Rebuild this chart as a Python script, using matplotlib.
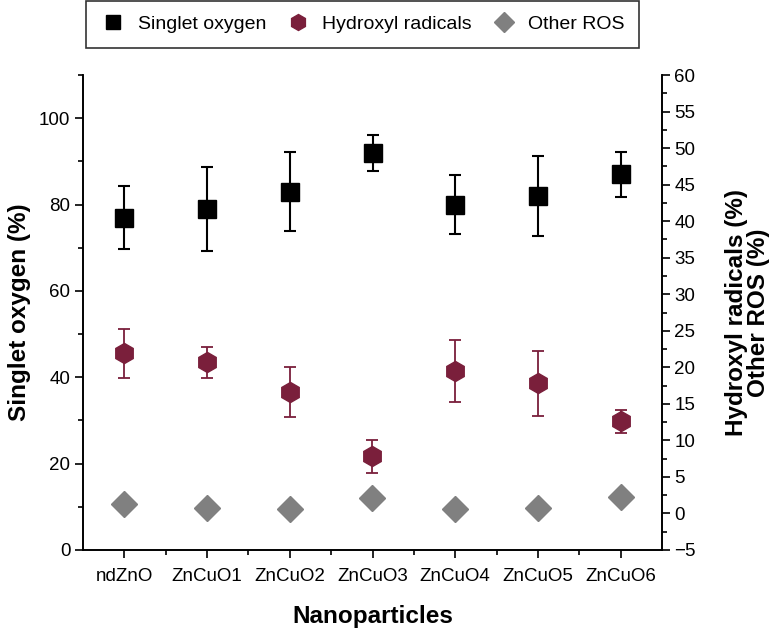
import numpy as np
import matplotlib
matplotlib.use("Agg")
import matplotlib.pyplot as plt
from matplotlib.ticker import MultipleLocator, FixedLocator
from matplotlib.lines import Line2D

plt.rcParams['font.family'] = ['Liberation Sans', 'DejaVu Sans']

# data
samples = ["ndZnO", "ZnCuO1", "ZnCuO2", "ZnCuO3", "ZnCuO4", "ZnCuO5", "ZnCuO6"]
singlet = [77.0, 79.0, 83.0, 92.0, 80.0, 82.0, 87.0]
singlet_err = [7.4, 9.7, 9.1, 4.2, 6.8, 9.3, 5.2]
hydroxyl = [21.9, 20.7, 16.6, 7.8, 19.5, 17.8, 12.6]
hydroxyl_err = [3.4, 2.1, 3.4, 2.3, 4.2, 4.4, 1.6]
other_ros = [1.3, 0.8, 0.6, 2.1, 0.6, 0.8, 2.2]

maroon = "#7a1f3b"
grey = "#808080"

x = np.arange(len(samples))

fig = plt.figure(figsize=(7.79, 6.30), dpi=100)
ax = fig.add_axes([83/779, 1-550/630, (662-83)/779, (550-75)/630])
ax2 = ax.twinx()

#Singlet oxygen on the left axis
ax.errorbar(x, singlet, yerr=singlet_err, fmt='s', color='black', ms=13,
            ecolor='black', elinewidth=1.5, capsize=4, capthick=1.5, zorder=3)
#Hydroxyl radicals and other ROS on the right axis
ax2.errorbar(x, hydroxyl, yerr=hydroxyl_err, fmt='h', color=maroon, ms=14.5,
             ecolor=maroon, elinewidth=1.3, capsize=4, capthick=1.3, zorder=3)
ax2.plot(x, other_ros, 'D', color=grey, ms=13.5, ls='none', zorder=3)

ax.set_xlim(-0.5, 6.5)
ax.set_ylim(0, 110)
ax2.set_ylim(-5, 60)

ax.set_xticks(x)
ax.set_xticklabels(samples)
ax.xaxis.set_minor_locator(FixedLocator(x[:-1] + 0.5))
ax.yaxis.set_major_locator(MultipleLocator(20))
ax.yaxis.set_minor_locator(MultipleLocator(10))
ax2.yaxis.set_major_locator(MultipleLocator(5))
ax2.yaxis.set_minor_locator(MultipleLocator(2.5))

for a in (ax, ax2):
    a.spines['top'].set_visible(False)
    for s in a.spines.values():
        s.set_linewidth(1.2)
    a.tick_params(which='major', direction='out', length=6, width=1.2, labelsize=13.5, pad=3)
    a.tick_params(which='minor', direction='out', length=3.5, width=1.2)
ax.tick_params(axis='x', which='major', pad=7)

ax.set_xlabel("Nanoparticles", fontsize=17.5, fontweight='bold', labelpad=14)
ax.set_ylabel("Singlet oxygen (%)", fontsize=17.5, fontweight='bold', labelpad=6)
ax2.set_ylabel("Hydroxyl radicals (%)\nOther ROS (%)", fontsize=17.5, fontweight='bold',
               rotation=90, labelpad=21, linespacing=0.95)

handles = [
    Line2D([], [], marker='s', color='black', ls='none', ms=10),
    Line2D([], [], marker='h', color=maroon, ls='none', ms=11.5),
    Line2D([], [], marker='D', color=grey, ls='none', ms=10.5),
]
leg = fig.legend(handles, ["Singlet oxygen", "Hydroxyl radicals", "Other ROS"],
                 loc='upper left', bbox_to_anchor=(86/779, 1-1/630), ncol=3,
                 borderaxespad=0, fontsize=14, frameon=True, fancybox=False,
                 edgecolor='black', handletextpad=0.6, columnspacing=1.0,
                 borderpad=0.75, handlelength=1.3)
leg.get_frame().set_linewidth(1.2)

fig.savefig("out.png", dpi=100)
